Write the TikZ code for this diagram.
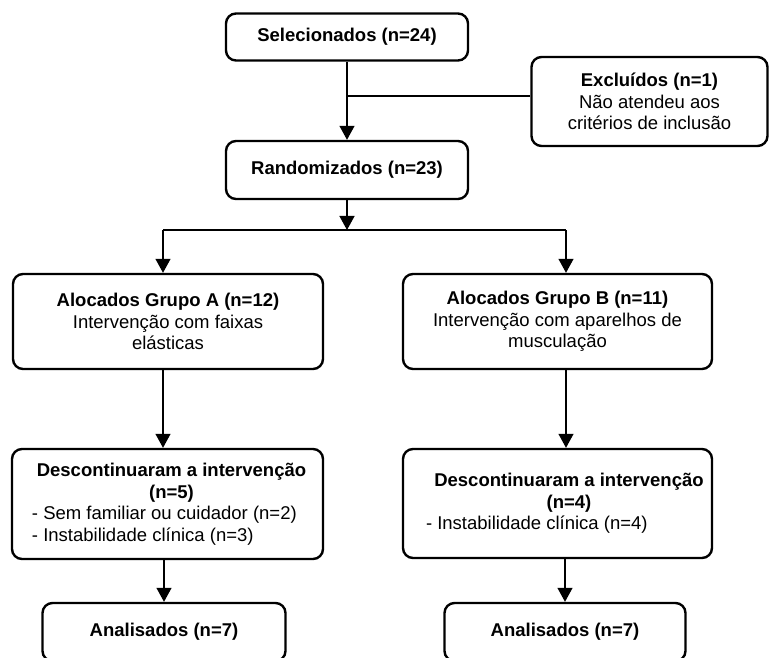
\documentclass[tikz,border=0pt]{standalone}
\usepackage{fontspec}
\setmainfont{Liberation Sans}
\usetikzlibrary{arrows.meta}

\begin{document}
\begin{tikzpicture}[x=1pt,y=-1pt,
        caixa/.style={draw, line width=2.4pt, rounded corners=10pt, inner sep=0pt, align=center, font=\fontsize{18.5}{21.5}\selectfont},
        seta/.style={line width=1.3pt, -{Triangle[width=15pt,length=14pt]}},
        linha/.style={line width=1.3pt}]
        \useasboundingbox (0,0) rectangle (769,658);
        \clip (0,0) rectangle (769,658);

        \node[caixa, minimum width=242, minimum height=47] (sel) at (347,37) {\textbf{Selecionados (n=24)}};
        \node[caixa, minimum width=236, minimum height=89] (excl) at (649.5,101.5) {\textbf{Excluídos (n=1)}\\Não atendeu aos\\critérios de inclusão};
        \node[caixa, minimum width=242, minimum height=58] (rand) at (347,170) {\textbf{Randomizados (n=23)}};

        \node[caixa, minimum width=310, minimum height=95] (grpA) at (168,321.5) {\textbf{Alocados Grupo A (n=12)}\\Intervenção com faixas\\elásticas};
        \node[caixa, minimum width=309, minimum height=95] (grpB) at (557.5,321.5) {\textbf{Alocados Grupo B (n=11)}\\Intervenção com aparelhos de\\musculação};

        \node[caixa, align=none, minimum width=311, minimum height=110] (descA) at (167.5,504) {\hspace*{20pt}\parbox{279pt}{\centering\textbf{Descontinuaram a intervenção\\(n=5)}\par\raggedright - Sem familiar ou cuidador (n=2)\\- Instabilidade clínica (n=3)}\hspace*{12pt}};
        \node[caixa, align=none, minimum width=309, minimum height=109] (descB) at (557.5,503.5) {\hspace*{23pt}\parbox{286pt}{\centering\textbf{Descontinuaram a intervenção\\(n=4)}\par\raggedright - Instabilidade clínica (n=4)}};

        \node[caixa, minimum width=243, minimum height=58] (anaA) at (164,632) {\textbf{Analisados (n=7)}};
        \node[caixa, minimum width=241, minimum height=58] (anaB) at (565,632) {\textbf{Analisados (n=7)}};

        \coordinate (jexc) at (347,96);
        \coordinate (div) at (347,230);
        \coordinate (divA) at (163,230);
        \coordinate (divB) at (566,230);

        \draw[seta] (sel) -- (rand);
        \draw[linha] (jexc) -- (jexc -| excl.west);
        \draw[seta] (rand) -- (div);
        \draw[linha] (divA) -- (divB);
        \draw[seta] (divA) -- (divA |- grpA.north);
        \draw[seta] (divB) -- (divB |- grpB.north);
        \draw[seta] (divA |- grpA.south) -- (divA |- descA.north);
        \draw[seta] (divB |- grpB.south) -- (divB |- descB.north);
        \draw[seta] (descA.south -| anaA.north) -- (anaA);
        \draw[seta] (descB.south -| anaB.north) -- (anaB);
\end{tikzpicture}
\end{document}
